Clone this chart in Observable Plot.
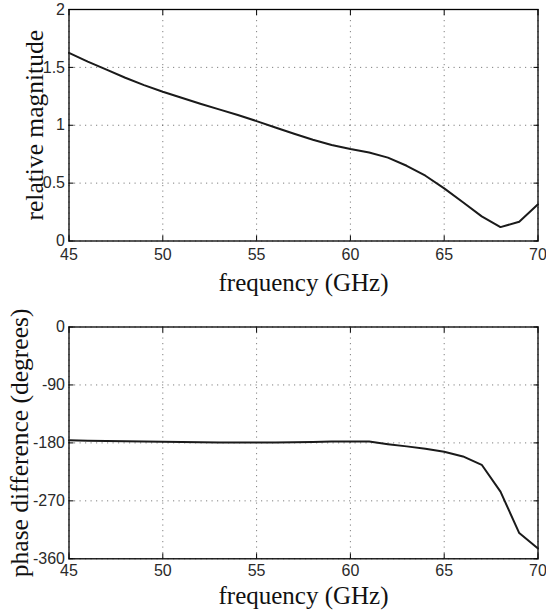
<!DOCTYPE html>
<html>
<head>
<meta charset="utf-8">
<script src="https://cdn.jsdelivr.net/npm/d3@7"></script>
<script src="https://cdn.jsdelivr.net/npm/@observablehq/plot@0.6"></script>
<style>
  html, body { margin: 0; padding: 0; background: #fff; }
  svg { display: block; }
</style>
</head>
<body>
<div id="chart"></div>
<script>
const freqs = [45,46,47,48,49,50,51,52,53,54,55,56,57,58,59,60,61,62,63,64,65,66,67,68,69,70];
const magnitude = [1.626,1.55,1.48,1.41,1.347,1.29,1.237,1.186,1.137,1.088,1.036,0.981,0.927,0.875,0.829,0.794,0.765,0.72,0.65,0.564,0.455,0.335,0.213,0.12,0.167,0.317];
const phase = [-176,-176.5,-177,-177.5,-178,-178.3,-178.7,-179,-179.3,-179.5,-179.5,-179.3,-179,-178.5,-178,-177.7,-178,-182,-185.4,-189,-193.7,-201,-214,-255.7,-320,-344];
const xTicks = [45,50,55,60,65,70];
const magTicks = [0,0.5,1,1.5,2];
const phaseTicks = [0,-90,-180,-270,-360];
const xLabel = "frequency (GHz)";
const magLabel = "relative magnitude";
const phaseLabel = "phase difference (degrees)";

const magData = freqs.map((f, i) => ({f, v: magnitude[i]}));
const phaseData = freqs.map((f, i) => ({f, v: phase[i]}));

const W = 546;
const serif = "Liberation Serif";
const sans = "Liberation Sans";

function panel({data, yDomain, yTicks, yLabel, height, marginTop, marginBottom, xLabelDy, yLabelDx, xPad}) {
  return Plot.plot({
    width: W,
    height,
    marginLeft: 68.5,
    marginRight: 8.5,
    marginTop,
    marginBottom,
    style: {fontFamily: sans, fontSize: "16px", color: "#2a2a2a", background: "#fff", overflow: "visible"},
    x: {domain: [45, 70]},
    y: {domain: yDomain},
    marks: [
      Plot.gridX(xTicks, {stroke: "#000", strokeOpacity: 0.5, strokeDasharray: "1.2,4.3", strokeWidth: 1}),
      Plot.gridY(yTicks, {stroke: "#000", strokeOpacity: 0.5, strokeDasharray: "1.2,4.3", strokeWidth: 1}),
      Plot.axisX(xTicks, {tickSize: 0, tickPadding: xPad, label: null, fontSize: 16}),
      Plot.axisY(yTicks, {tickSize: 0, tickPadding: 4, label: null, fontSize: 16, tickFormat: d => String(d)}),
      Plot.axisX(xTicks, {anchor: "bottom", tickSize: 5, dy: -5, text: null, label: null, stroke: "#000"}),
      Plot.axisX(xTicks, {anchor: "top", tickSize: 5, dy: 5, text: null, label: null, stroke: "#000"}),
      Plot.axisY(yTicks, {anchor: "left", tickSize: 5, dx: 5, text: null, label: null, stroke: "#000"}),
      Plot.axisY(yTicks, {anchor: "right", tickSize: 5, dx: -5, text: null, label: null, stroke: "#000"}),
      Plot.frame({stroke: "#000", strokeWidth: 1.3}),
      Plot.line(data, {x: "f", y: "v", stroke: "#1a1a1a", strokeWidth: 2}),
      Plot.text([xLabel], {text: d => d, frameAnchor: "bottom", dy: xLabelDy, lineAnchor: "middle", fontFamily: serif, fontSize: 25, fill: "#111"}),
      Plot.text([yLabel], {text: d => d, frameAnchor: "left", dx: yLabelDx, rotate: -90, lineAnchor: "middle", textAnchor: "middle", fontFamily: serif, fontSize: 25.5, fill: "#111"})
    ]
  });
}

const topPanel = panel({data: magData, yDomain: [0, 2], yTicks: magTicks, yLabel: magLabel,
  height: 307, marginTop: 9, marginBottom: 66.5, xLabelDy: 42, yLabelDx: -34, xPad: 8});
const bottomPanel = panel({data: phaseData, yDomain: [-360, 0], yTicks: phaseTicks, yLabel: phaseLabel,
  height: 307, marginTop: 19.5, marginBottom: 55.7, xLabelDy: 37, yLabelDx: -49, xPad: 6});

document.getElementById("chart").append(topPanel, bottomPanel);
</script>
</body>
</html>
